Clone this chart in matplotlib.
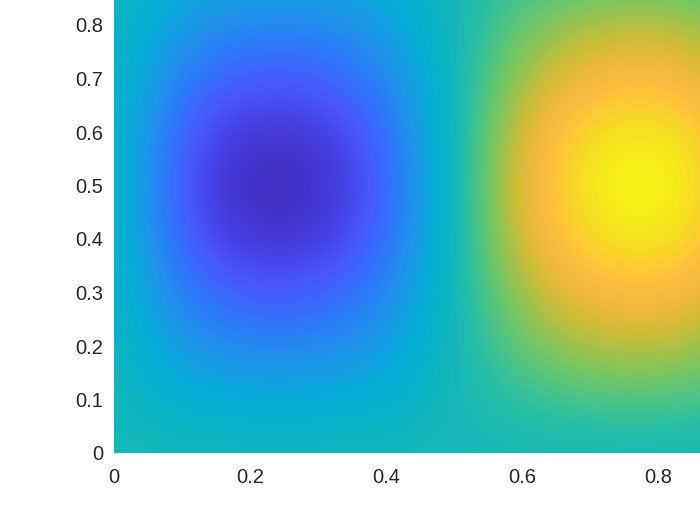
import numpy as np
import matplotlib
matplotlib.use("Agg")
import matplotlib.pyplot as plt
from matplotlib.colors import LinearSegmentedColormap

# Grid sample positions (0..1 step 0.1) and field values
x_vals = [0.0, 0.1, 0.2, 0.3, 0.4, 0.5, 0.6, 0.7, 0.8, 0.9, 1.0]
y_vals = [0.0, 0.1, 0.2, 0.3, 0.4, 0.5, 0.6, 0.7, 0.8, 0.9, 1.0]
# rows = y (bottom to top), columns = x (left to right)
z_vals = [
    [0.00,  0.00,  0.00,  0.00,  0.00, 0.00, 0.00, 0.00, 0.00, 0.00, 0.00],
    [0.00, -0.15, -0.19, -0.19, -0.14, 0.00, 0.12, 0.19, 0.20, 0.16, 0.00],
    [0.00, -0.35, -0.46, -0.45, -0.32, 0.00, 0.28, 0.44, 0.47, 0.37, 0.00],
    [0.00, -0.53, -0.68, -0.67, -0.48, 0.00, 0.42, 0.65, 0.70, 0.55, 0.00],
    [0.00, -0.69, -0.89, -0.87, -0.63, 0.00, 0.55, 0.86, 0.92, 0.72, 0.00],
    [0.00, -0.75, -0.97, -0.95, -0.68, 0.00, 0.60, 0.93, 1.00, 0.78, 0.00],
    [0.00, -0.69, -0.89, -0.87, -0.63, 0.00, 0.55, 0.86, 0.92, 0.72, 0.00],
    [0.00, -0.53, -0.68, -0.67, -0.48, 0.00, 0.42, 0.65, 0.70, 0.55, 0.00],
    [0.00, -0.35, -0.46, -0.45, -0.32, 0.00, 0.28, 0.44, 0.47, 0.37, 0.00],
    [0.00, -0.15, -0.19, -0.19, -0.14, 0.00, 0.12, 0.19, 0.20, 0.16, 0.00],
    [0.00,  0.00,  0.00,  0.00,  0.00, 0.00, 0.00, 0.00, 0.00, 0.00, 0.00],
]
x_ticks = [0, 0.2, 0.4, 0.6, 0.8]
x_tick_labels = ["0", "0.2", "0.4", "0.6", "0.8"]
y_ticks = [0, 0.1, 0.2, 0.3, 0.4, 0.5, 0.6, 0.7, 0.8]
y_tick_labels = ["0", "0.1", "0.2", "0.3", "0.4", "0.5", "0.6", "0.7", "0.8"]

# Parula-like colormap
parula_anchors = [
    (0.000, (0.2422, 0.1504, 0.6603)),
    (0.050, (0.2650, 0.2040, 0.8000)),
    (0.100, (0.2780, 0.2650, 0.9100)),
    (0.150, (0.2790, 0.3420, 0.9800)),
    (0.200, (0.2250, 0.4200, 0.9950)),
    (0.250, (0.1650, 0.4950, 0.9700)),
    (0.300, (0.1300, 0.5650, 0.9300)),
    (0.350, (0.0800, 0.6200, 0.8900)),
    (0.400, (0.0200, 0.6800, 0.8400)),
    (0.450, (0.0300, 0.7000, 0.7900)),
    (0.500, (0.0800, 0.7200, 0.7200)),
    (0.550, (0.1600, 0.7450, 0.6400)),
    (0.600, (0.3000, 0.7700, 0.5200)),
    (0.650, (0.4500, 0.7800, 0.4000)),
    (0.700, (0.6200, 0.7600, 0.3000)),
    (0.750, (0.8000, 0.7400, 0.2200)),
    (0.800, (0.9300, 0.7200, 0.2400)),
    (0.850, (0.9900, 0.7400, 0.2400)),
    (0.875, (0.9950, 0.7800, 0.2100)),
    (0.900, (0.9800, 0.8300, 0.1700)),
    (0.950, (0.9600, 0.9200, 0.1000)),
    (1.000, (0.9770, 0.9840, 0.0800)),
]
parula = LinearSegmentedColormap.from_list("parula_like", parula_anchors, N=256)

fig = plt.figure(figsize=(7, 5.25), dpi=100)
ax = fig.add_axes([114 / 700, 72 / 525, 1 - 114 / 700, 1 - 72 / 525])

Z = np.array(z_vals)
dx = x_vals[1] - x_vals[0]
dy = y_vals[1] - y_vals[0]
ax.imshow(Z, origin="lower", cmap=parula, vmin=-1.0, vmax=1.0,
          interpolation="bicubic", aspect="auto",
          extent=[x_vals[0] - dx / 2, x_vals[-1] + dx / 2,
                  y_vals[0] - dy / 2, y_vals[-1] + dy / 2])

ax.set_xlim(0, 586 / 680)
ax.set_ylim(0, 453 / 535)
ax.set_xticks(x_ticks)
ax.set_xticklabels(x_tick_labels)
ax.set_yticks(y_ticks)
ax.set_yticklabels(y_tick_labels)
for s in ax.spines.values():
    s.set_visible(False)
ax.tick_params(length=0, labelsize=14.5, labelcolor="#262626")
ax.tick_params(axis="x", pad=11)
ax.tick_params(axis="y", pad=8)
for lab in ax.get_xticklabels() + ax.get_yticklabels():
    lab.set_fontfamily("Liberation Sans")

fig.savefig("out.png", dpi=100)
